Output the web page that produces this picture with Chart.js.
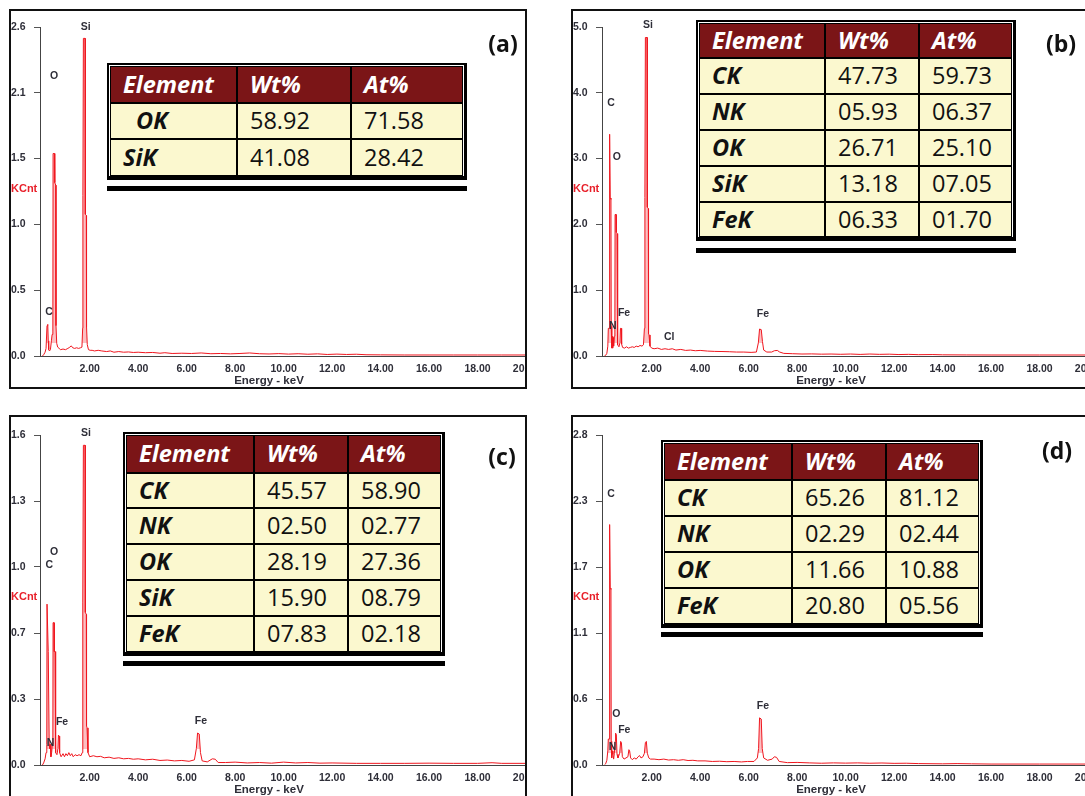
<!DOCTYPE html>
<html>
<head>
<meta charset="utf-8">
<script src="https://cdn.jsdelivr.net/npm/chart.js@4.4.1/dist/chart.umd.min.js"></script>
<style>
  html, body { margin: 0; padding: 0; background: #fff; }
  body { width: 1085px; height: 796px; position: relative; overflow: hidden; font-family: "Liberation Sans", Arial, sans-serif; }
  .panel { position: absolute; box-sizing: border-box; border: 2px solid #111; overflow: hidden; background: #fff; }
  .panel canvas { position: absolute; left: -2px; top: -2px; }
  .tag { position: absolute; font-family: "Open Sans", sans-serif; font-weight: 700; font-size: 23px; line-height: 1; color: #111; transform: translate(-50%, -50%); }
  .eds { position: absolute; border-style: solid; border-color: #000; border-width: 2px 3px 4px 2px; padding: 1px 1px 0 1px; background: #fff; }
  .eds .grid { display: grid; gap: 2px; padding: 1px; background: #000; }
  .eds .cell { display: flex; align-items: center; padding-left: 12px; font-family: "Open Sans", sans-serif; font-size: 23.5px; line-height: 1; white-space: nowrap; overflow: hidden; }
  .eds .head { background: #7b1517; color: #fff; font-weight: 700; font-style: italic; }
  .eds .elem { background: #fbf8cf; color: #111; font-weight: 700; font-style: italic; }
  .eds .num { background: #fbf8cf; color: #111; }
  .eds .indent { padding-left: 25px; }
  .bar { position: absolute; background: #000; height: 5px; }
</style>
</head>
<body>
<script>
// ---- Energy axis ----
const energyTicks = [2, 4, 6, 8, 10, 12, 14, 16, 18, 20];
const energyTickLabels = ['2.00', '4.00', '6.00', '8.00', '10.00', '12.00', '14.00', '16.00', '18.00', '20.00'];

// ---- Count axes (KCnt) ----
const countTicksA = ['0.0', '0.5', '1.0', '1.5', '2.1', '2.6'];
const countTicksB = ['0.0', '1.0', '2.0', '3.0', '4.0', '5.0'];
const countTicksC = ['0.0', '0.3', '0.7', '1.0', '1.3', '1.6'];
const countTicksD = ['0.0', '0.6', '1.1', '1.7', '2.3', '2.8'];
const countMaxA = 2.6, countMaxB = 5.0, countMaxC = 1.6, countMaxD = 2.8;

// ---- Spectra: [energy keV, KCnt] ----
const spectrumA = [
  [0.05,0],[0.10,0.01],[0.16,0.03],[0.20,0.06],[0.24,0.24],[0.27,0.25],[0.29,0.12],[0.31,0.05],[0.34,0.04],[0.38,0.05],
  [0.42,0.12],[0.45,0.17],[0.48,0.19],[0.49,1.60],[0.55,1.60],[0.56,1.37],[0.60,1.35],[0.61,0.24],[0.64,0.10],[0.68,0.07],
  [0.74,0.06],[0.80,0.05],[0.90,0.055],[1.00,0.05],[1.10,0.06],[1.18,0.07],[1.24,0.08],[1.30,0.065],[1.38,0.06],[1.46,0.065],
  [1.54,0.06],[1.62,0.065],[1.68,0.07],[1.71,0.22],[1.72,1.27],[1.74,2.51],[1.81,2.51],[1.82,1.12],[1.86,1.11],[1.87,0.23],
  [1.90,0.09],[1.95,0.05],[2.02,0.045],[2.10,0.045],[2.20,0.04],[2.35,0.045],[2.50,0.04],[2.70,0.035],[2.85,0.04],[3.00,0.03],
  [3.20,0.035],[3.40,0.03],[3.60,0.032],[3.80,0.028],[4.00,0.03],[4.30,0.026],[4.60,0.028],[4.90,0.022],[5.10,0.026],[5.40,0.02],
  [5.80,0.022],[6.20,0.02],[6.60,0.024],[7.00,0.018],[7.40,0.02],[7.80,0.017],[8.20,0.02],[8.60,0.024],[9.00,0.018],[9.40,0.016],
  [9.80,0.019],[10.20,0.015],[10.60,0.018],[11.00,0.014],[11.40,0.017],[11.80,0.012],[12.20,0.015],[12.60,0.012],[13.00,0.014],[13.40,0.01],
  [14.00,0.009],[15.00,0.008],[16.00,0.008],[17.00,0.008],[18.00,0.008],[19.00,0.008],[20.00,0.008]
];
const spectrumB = [
  [0.05,0],[0.10,0.01],[0.15,0.04],[0.19,0.15],[0.21,0.42],[0.24,0.42],[0.25,3.37],[0.28,3.37],[0.29,2.40],[0.32,2.38],
  [0.33,0.45],[0.35,0.42],[0.36,0.12],[0.37,0.28],[0.38,0.12],[0.39,0.30],[0.40,0.12],[0.41,0.28],[0.43,0.15],[0.46,0.30],
  [0.48,0.35],[0.49,2.15],[0.53,2.15],[0.54,1.88],[0.57,1.86],[0.58,0.30],[0.61,0.17],[0.65,0.14],[0.69,0.20],[0.71,0.42],
  [0.74,0.42],[0.76,0.18],[0.80,0.13],[0.88,0.12],[0.96,0.14],[1.04,0.12],[1.12,0.13],[1.20,0.14],[1.28,0.13],[1.36,0.15],
  [1.44,0.14],[1.52,0.16],[1.60,0.15],[1.66,0.17],[1.70,0.42],[1.72,2.41],[1.74,4.84],[1.81,4.84],[1.82,2.26],[1.86,2.24],
  [1.87,0.34],[1.89,0.32],[1.93,0.15],[2.00,0.12],[2.10,0.11],[2.25,0.12],[2.40,0.10],[2.55,0.11],[2.70,0.10],[2.85,0.11],
  [3.00,0.09],[3.20,0.10],[3.40,0.085],[3.60,0.09],[3.80,0.08],[4.00,0.085],[4.30,0.075],[4.60,0.07],[4.90,0.068],[5.20,0.065],
  [5.50,0.06],[5.80,0.06],[6.10,0.055],[6.32,0.06],[6.40,0.20],[6.45,0.41],[6.52,0.40],[6.57,0.22],[6.62,0.09],[6.75,0.06],
  [6.95,0.06],[7.06,0.08],[7.18,0.085],[7.28,0.06],[7.45,0.04],[7.80,0.035],[8.20,0.03],[8.60,0.032],[9.00,0.028],[9.40,0.03],
  [9.80,0.026],[10.20,0.03],[10.60,0.024],[11.00,0.03],[11.40,0.025],[11.80,0.028],[12.20,0.022],[12.60,0.025],[13.00,0.02],[13.60,0.022],
  [14.00,0.018],[15.00,0.016],[16.00,0.015],[18.00,0.015],[20.00,0.015]
];
const spectrumC = [
  [0.05,0],[0.10,0.01],[0.16,0.03],[0.20,0.06],[0.23,0.10],[0.24,0.78],[0.28,0.78],[0.29,0.55],[0.32,0.55],[0.33,0.10],
  [0.35,0.08],[0.38,0.10],[0.40,0.04],[0.43,0.06],[0.46,0.10],[0.48,0.12],[0.49,0.69],[0.53,0.69],[0.54,0.55],[0.57,0.55],
  [0.58,0.12],[0.61,0.06],[0.65,0.05],[0.69,0.08],[0.71,0.145],[0.74,0.14],[0.76,0.06],[0.82,0.04],[0.90,0.055],[0.96,0.04],
  [1.02,0.055],[1.08,0.045],[1.14,0.06],[1.20,0.045],[1.26,0.055],[1.32,0.04],[1.40,0.05],[1.48,0.045],[1.56,0.05],[1.64,0.045],
  [1.69,0.06],[1.71,0.19],[1.72,0.79],[1.74,1.55],[1.81,1.55],[1.82,0.74],[1.86,0.73],[1.87,0.19],[1.89,0.18],[1.93,0.06],
  [2.00,0.04],[2.15,0.045],[2.30,0.04],[2.45,0.042],[2.60,0.035],[2.80,0.038],[3.00,0.032],[3.20,0.035],[3.40,0.03],[3.60,0.032],
  [3.80,0.028],[4.00,0.03],[4.30,0.025],[4.60,0.028],[4.90,0.022],[5.20,0.024],[5.50,0.02],[5.80,0.022],[6.10,0.018],[6.32,0.025],
  [6.40,0.08],[6.45,0.155],[6.52,0.15],[6.57,0.06],[6.64,0.02],[6.85,0.015],[7.06,0.03],[7.18,0.028],[7.30,0.012],[7.60,0.012],
  [8.00,0.014],[8.50,0.01],[9.00,0.012],[9.50,0.009],[10.00,0.014],[10.50,0.01],[11.00,0.012],[11.50,0.009],[12.00,0.01],[13.00,0.008],
  [14.00,0.008],[15.00,0.008],[16.00,0.009],[17.00,0.008],[18.00,0.008],[18.60,0.011],[19.00,0.008],[20.00,0.008]
];
const spectrumD = [
  [0.05,0],[0.10,0.01],[0.15,0.04],[0.19,0.12],[0.21,0.22],[0.24,0.22],[0.25,2.04],[0.28,2.04],[0.29,1.50],[0.32,1.49],
  [0.33,0.20],[0.35,0.06],[0.38,0.12],[0.40,0.09],[0.43,0.05],[0.46,0.10],[0.49,0.20],[0.51,0.27],[0.54,0.26],[0.57,0.09],
  [0.61,0.06],[0.68,0.10],[0.72,0.20],[0.75,0.19],[0.79,0.07],[0.86,0.05],[0.94,0.06],[1.02,0.07],[1.06,0.13],[1.09,0.12],
  [1.13,0.06],[1.20,0.045],[1.28,0.06],[1.36,0.05],[1.44,0.07],[1.50,0.08],[1.56,0.06],[1.64,0.07],[1.70,0.10],[1.74,0.19],
  [1.78,0.20],[1.82,0.10],[1.88,0.06],[1.95,0.05],[2.10,0.05],[2.30,0.045],[2.50,0.05],[2.70,0.042],[2.90,0.045],[3.10,0.04],
  [3.30,0.045],[3.50,0.038],[3.70,0.04],[3.90,0.035],[4.20,0.035],[4.50,0.03],[4.80,0.032],[5.10,0.028],[5.40,0.03],[5.70,0.026],
  [5.95,0.03],[6.22,0.03],[6.36,0.06],[6.41,0.14],[6.45,0.40],[6.52,0.39],[6.56,0.14],[6.62,0.06],[6.78,0.04],[6.97,0.05],
  [7.06,0.07],[7.15,0.065],[7.26,0.03],[7.60,0.02],[8.00,0.022],[8.50,0.018],[9.00,0.015],[9.50,0.018],[10.00,0.016],[10.50,0.018],
  [11.00,0.015],[11.50,0.017],[12.00,0.014],[12.50,0.015],[13.00,0.012],[14.00,0.01],[14.60,0.012],[15.20,0.01],[16.00,0.008],[18.00,0.008],
  [20.00,0.008]
];

// ---- Peak identifications: [element, energy keV, KCnt where the name sits] ----
const peakNamesA = [['C',0.32,0.35],['O',0.53,2.21],['Si',1.84,2.60]];
const peakNamesB = [['C',0.32,3.84],['O',0.56,3.03],['N',0.40,0.45],['Fe',0.86,0.65],['Si',1.85,5.03],['Cl',2.72,0.29],['Fe',6.59,0.64]];
const peakNamesC = [['C',0.33,0.97],['O',0.53,1.03],['N',0.39,0.105],['Fe',0.86,0.207],['Si',1.85,1.61],['Fe',6.59,0.213]];
const peakNamesD = [['C',0.32,2.30],['O',0.54,0.43],['N',0.39,0.155],['Fe',0.87,0.30],['Fe',6.59,0.50]];

// ---- Quantification tables ----
const tableHeader = ['Element', 'Wt%', 'At%'];
const elementsA = ['OK', 'SiK'];
const wtA = ['58.92', '41.08'];
const atA = ['71.58', '28.42'];
const elementsB = ['CK', 'NK', 'OK', 'SiK', 'FeK'];
const wtB = ['47.73', '05.93', '26.71', '13.18', '06.33'];
const atB = ['59.73', '06.37', '25.10', '07.05', '01.70'];
const elementsC = ['CK', 'NK', 'OK', 'SiK', 'FeK'];
const wtC = ['45.57', '02.50', '28.19', '15.90', '07.83'];
const atC = ['58.90', '02.77', '27.36', '08.79', '02.18'];
const elementsD = ['CK', 'NK', 'OK', 'FeK'];
const wtD = ['65.26', '02.29', '11.66', '20.80'];
const atD = ['81.12', '02.44', '10.88', '05.56'];

// ---------------------------------------------------------------
const FONT = '"Liberation Sans", Arial, sans-serif';
Chart.defaults.font.family = FONT;

// Peak names, the KCnt unit and the energy title, placed through the chart scales.
const edsText = {
  id: 'edsText',
  afterDatasetsDraw(chart, args, opts) {
    const { ctx, chartArea, scales: { x, y } } = chart;
    ctx.save();
    ctx.font = 'bold 10.5px ' + FONT;
    ctx.fillStyle = '#2e2e38';
    ctx.textAlign = 'center';
    ctx.textBaseline = 'middle';
    opts.peaks.forEach(p => ctx.fillText(p[0], x.getPixelForValue(p[1]), y.getPixelForValue(p[2])));
    ctx.font = 'bold 11px ' + FONT;
    ctx.fillStyle = '#e8202a';
    ctx.textAlign = 'left';
    ctx.fillText('KCnt', 2, (chartArea.top + chartArea.bottom) / 2 - 3);
    ctx.fillStyle = '#2e2e38';
    ctx.font = 'bold 11.5px ' + FONT;
    ctx.textAlign = 'center';
    ctx.fillText('Energy - keV', chartArea.left + 229, chartArea.bottom + 25);
    ctx.restore();
  }
};

function zeroPad(s) { s.paddingLeft = 0; s.paddingRight = 0; s.paddingTop = 0; s.paddingBottom = 0; }

// fillRows: height (in whole pixels above the energy axis) above which peak bodies are tinted
function spectrumPanel(box, spectrum, countMax, countLabels, peaks, fillRows, tag) {
  const panel = document.createElement('div');
  panel.className = 'panel';
  Object.assign(panel.style, { left: box.left + 'px', top: box.top + 'px', width: '518px', height: box.height + 'px' });
  const canvas = document.createElement('canvas');
  const cw = 560, ch = box.height;
  canvas.width = cw; canvas.height = ch;
  canvas.style.width = cw + 'px'; canvas.style.height = ch + 'px';
  panel.appendChild(canvas);
  document.body.appendChild(panel);

  const xAxisHeight = 33;
  const fillLevel = fillRows * countMax / (box.chartBottom - box.chartTop);
  new Chart(canvas, {
    type: 'line',
    data: {
      datasets: [{
        data: spectrum.map(p => ({ x: p[0], y: p[1] })),
        borderColor: '#f0161e',
        borderWidth: 1,
        pointRadius: 0,
        tension: 0,
        fill: { target: { value: fillLevel }, above: 'rgba(240,30,40,0.28)', below: 'rgba(0,0,0,0)' }
      }]
    },
    options: {
      responsive: false,
      animation: false,
      devicePixelRatio: 1,
      events: [],
      layout: { padding: { left: 2, top: box.chartTop, right: cw - 517, bottom: ch - box.chartBottom - xAxisHeight } },
      plugins: { legend: { display: false }, tooltip: { enabled: false }, edsText: { peaks } },
      scales: {
        x: {
          type: 'linear', min: -0.05, max: 20,
          afterBuildTicks: s => { s.ticks = energyTicks.map(v => ({ value: v })); },
          afterFit: s => { s.height = xAxisHeight; zeroPad(s); },
          ticks: { autoSkip: false, maxRotation: 0, minRotation: 0, padding: 7, color: '#2e2e38',
                   font: { size: 10.5, weight: 'bold' }, callback: (v, i) => energyTickLabels[i] },
          grid: { display: true, drawOnChartArea: false, drawTicks: false },
          border: { display: true, color: '#444', width: 1 }
        },
        y: {
          type: 'linear', min: 0, max: countMax,
          afterBuildTicks: s => { s.ticks = countLabels.map((l, i) => ({ value: countMax * i / (countLabels.length - 1) })); },
          afterFit: s => { s.width = 29; zeroPad(s); },
          ticks: { autoSkip: false, crossAlign: 'far', color: '#2e2e38', font: { size: 10.5, weight: 'bold' },
                   callback: (v, i) => countLabels[i] },
          grid: { display: true, drawOnChartArea: false, drawTicks: true, tickLength: 6, color: '#555' },
          border: { display: true, color: '#444', width: 1 }
        }
      }
    },
    plugins: [edsText]
  });

  const t = document.createElement('div');
  t.className = 'tag';
  t.textContent = tag.text;
  t.style.left = tag.x + 'px';
  t.style.top = tag.y + 'px';
  document.body.appendChild(t);
}

function quantTable(g, elements, wt, at, indentFirst) {
  const wrap = document.createElement('div');
  wrap.className = 'eds';
  wrap.style.left = g.left + 'px';
  wrap.style.top = g.top + 'px';
  const grid = document.createElement('div');
  grid.className = 'grid';
  grid.style.gridTemplateColumns = g.cols.map(c => c + 'px').join(' ');
  grid.style.gridTemplateRows = g.rows.map(r => r + 'px').join(' ');
  tableHeader.forEach(h => {
    const c = document.createElement('div');
    c.className = 'cell head';
    c.textContent = h;
    grid.appendChild(c);
  });
  elements.forEach((el, i) => {
    [[el, 'elem'], [wt[i], 'num'], [at[i], 'num']].forEach(([txt, cls], j) => {
      const c = document.createElement('div');
      c.className = 'cell ' + cls + (indentFirst && i === 0 && j === 0 ? ' indent' : '');
      c.textContent = txt;
      grid.appendChild(c);
    });
  });
  wrap.appendChild(grid);
  document.body.appendChild(wrap);

  const bar = document.createElement('div');
  bar.className = 'bar';
  bar.style.left = g.left + 'px';
  bar.style.top = g.barTop + 'px';
  bar.style.width = g.width + 'px';
  document.body.appendChild(bar);
}

spectrumPanel({ left: 9, top: 9, height: 380, chartTop: 18, chartBottom: 347 },
  spectrumA, countMaxA, countTicksA, peakNamesA, 13, { text: '(a)', x: 503, y: 43 });
spectrumPanel({ left: 571, top: 9, height: 380, chartTop: 18, chartBottom: 347 },
  spectrumB, countMaxB, countTicksB, peakNamesB, 13, { text: '(b)', x: 1061, y: 43 });
spectrumPanel({ left: 9, top: 415, height: 390, chartTop: 20, chartBottom: 350 },
  spectrumC, countMaxC, countTicksC, peakNamesC, 16, { text: '(c)', x: 502, y: 456 });
spectrumPanel({ left: 571, top: 415, height: 390, chartTop: 20, chartBottom: 350 },
  spectrumD, countMaxD, countTicksD, peakNamesD, 12, { text: '(d)', x: 1057, y: 450 });

quantTable({ left: 107, top: 63, width: 360, barTop: 186, cols: [125, 112, 110], rows: [35, 34, 35] },
  elementsA, wtA, atA, true);
quantTable({ left: 696, top: 20, width: 320, barTop: 248, cols: [124, 92, 91], rows: [33, 34, 34, 34, 34, 33] },
  elementsB, wtB, atB, false);
quantTable({ left: 123, top: 432, width: 322, barTop: 661, cols: [126, 92, 91], rows: [36, 33, 34, 34, 34, 34] },
  elementsC, wtC, atC, false);
quantTable({ left: 661, top: 440, width: 322, barTop: 632, cols: [126, 92, 91], rows: [35, 34, 34, 34, 34] },
  elementsD, wtD, atD, false);
</script>
</body>
</html>
